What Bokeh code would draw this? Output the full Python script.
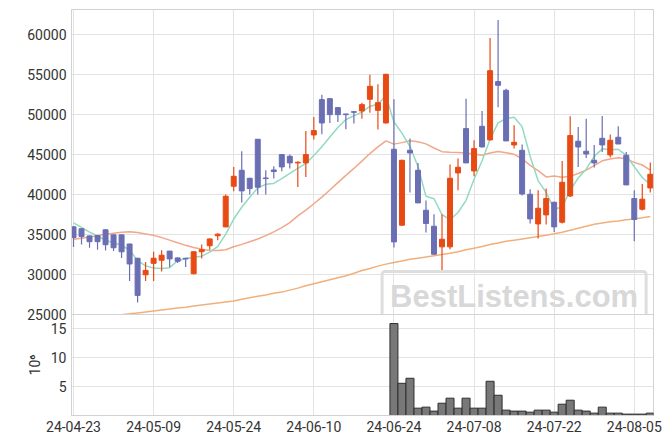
import pandas as pd
from bokeh.plotting import figure
from bokeh.models import ColumnDataSource, Range1d, FixedTicker, Label
from bokeh.layouts import column
from bokeh.embed import file_html
from bokeh.resources import INLINE

# ---- data ----
holidays = ["2024-05-01", "2024-05-06", "2024-05-15", "2024-06-06"]
dates = [d for d in pd.bdate_range("2024-04-23", "2024-08-07")
         if d.strftime("%Y-%m-%d") not in holidays]

opens = [35970, 35720, 34830, 34870, 35590, 34960, 34960, 33820, 32040, 29970,
         31400, 31790, 32930, 32080, 32040, 30100, 32850, 33600, 34850, 35960,
         41040, 43040, 42040, 46920, 42080, 43080, 45000, 44790, 43960, 43960,
         47460, 51880, 52000, 50880, 50080, 50370, 50460, 51920, 50540, 48960,
         45670, 36170, 45540, 43040, 38040, 36040, 33460, 33460, 42710, 48250,
         42960, 48540, 46840, 54130, 53040, 46210, 45540, 40040, 36330, 37460,
         39040, 36540, 39830, 46670, 45420, 44290, 47040, 44960, 47170, 44920,
         39500, 38170, 40830]
highs = [36000, 35800, 34900, 34950, 35680, 35000, 35000, 33850, 32080, 31570,
         32840, 33050, 32950, 32170, 32080, 32900, 33770, 34500, 35150, 40000,
         43460, 45420, 42100, 46950, 43040, 43540, 45050, 45000, 44170, 47960,
         49710, 52500, 52050, 50960, 50100, 50460, 51500, 55000, 53800, 55100,
         51920, 44350, 47000, 43960, 39250, 37540, 37540, 43750, 44500, 52000,
         46790, 50460, 59590, 61840, 53250, 48670, 46250, 40670, 40540, 40750,
         39100, 44210, 49790, 48460, 49500, 46210, 49830, 47500, 48540, 45330,
         40540, 41330, 44000]
lows = [33440, 33770, 33350, 33100, 33010, 32930, 32080, 29200, 26500, 29200,
        29200, 30390, 30900, 31450, 30940, 30050, 32000, 33100, 34300, 35900,
        40420, 39000, 40000, 40000, 40000, 42000, 42920, 43250, 40960, 42210,
        46880, 47540, 48960, 49080, 48170, 48880, 49500, 50250, 48130, 48900,
        33380, 36080, 40250, 38960, 35250, 32500, 30420, 33170, 40540, 43960,
        42290, 45880, 46800, 50910, 46700, 45750, 39880, 36380, 34500, 36250,
        35330, 36380, 39700, 43460, 44580, 43380, 45330, 44630, 46330, 41200,
        34170, 38000, 40250]
closes = [34620, 34750, 34110, 34110, 33730, 33350, 32840, 31320, 27390, 30520,
          32040, 32420, 31950, 31660, 31950, 32850, 33100, 34450, 35050, 39790,
          42290, 40460, 40750, 40920, 42000, 42880, 43460, 43960, 44040, 45000,
          48000, 48960, 50000, 50000, 50000, 50290, 51250, 53540, 51500, 55040,
          34080, 44290, 45210, 38960, 36380, 32540, 34420, 42040, 43420, 43960,
          45750, 45960, 55500, 53670, 46710, 46540, 40080, 36960, 38290, 39500,
          35960, 41540, 47380, 45960, 45080, 43960, 46210, 46790, 46330, 41210,
          36880, 39420, 42540]
# volume in millions (no volume shown before 24-06-24)
volume_m = [None] * 40 + [
    15.93, 5.58, 6.45, 1.27, 1.45, 0.76, 2.13, 3.0, 1.27, 3.0,
    1.27, 1.27, 5.93, 3.51, 0.93, 0.76, 0.76, 0.58, 0.93, 0.93,
    0.58, 1.96, 2.65, 0.93, 0.76, 0.41, 1.45, 0.41, 0.41, 0.24,
    0.24, 0.24, 0.41]
ma5 = [36450, 35900, 35300, 34850, 34260, 34010, 33630, 33070, 31730, 31080,
       30820, 30740, 30860, 31720, 32000, 32170, 32300, 32800, 33480, 35050,
       36940, 38410, 39670, 40840, 41280, 41400, 42000, 42640, 43270, 43870,
       44890, 45990, 47200, 48390, 49390, 49850, 50310, 51020, 51320, 52320,
       49080, 47690, 46020, 43520, 39780, 39480, 37500, 36870, 37760, 39280,
       41920, 44230, 46920, 48970, 49520, 49680, 48500, 44790, 41720, 40270,
       38160, 38450, 40530, 42070, 43180, 44780, 45720, 45600, 45670, 44900,
       43480, 42130, 41280]
ma20 = [34400, 34550, 34700, 34870, 35040, 35170, 35300, 35350, 35250, 35080,
        34900, 34620, 34300, 33970, 33650, 33370, 33150, 33020, 33000, 33100,
        33480, 33770, 34100, 34440, 34860, 35330, 35860, 36500, 37330, 38050,
        38850, 39680, 40580, 41500, 42400, 43270, 44180, 45130, 45960, 46720,
        46310, 46500, 46720, 46620, 46340, 45830, 45370, 45280, 45250, 45190,
        45080, 44930, 45210, 45390, 45230, 45040, 44480, 43650, 42990, 42210,
        42310, 42170, 42280, 42630, 43060, 43630, 44220, 44460, 44610, 44470,
        44030, 43700, 43050]
ma60 = [24250, 24380, 24500, 24620, 24740, 24860, 24970, 25080, 25200, 25320,
        25440, 25560, 25680, 25800, 25920, 26050, 26180, 26310, 26440, 26570,
        26700, 26900, 27100, 27290, 27450, 27650, 27800, 28050, 28300, 28600,
        28850, 29100, 29350, 29600, 29850, 30150, 30500, 30750, 31050, 31300,
        31500, 31700, 31900, 32050, 32200, 32350, 32500, 32650, 32850, 33100,
        33300, 33500, 33750, 33950, 34150, 34300, 34450, 34600, 34750, 34900,
        35090, 35300, 35550, 35800, 36050, 36300, 36450, 36600, 36700, 36850,
        36960, 37100, 37250]
price_ticks = [25000, 30000, 35000, 40000, 45000, 50000, 55000, 60000]
volume_ticks = [5, 10, 15]

# ---- styling ----
RED = "#e84a14"
BLUE = "#6a6eb3"
GRID = "#e3e3e3"
BORDER = "#d2d2d2"
TXT = "#333333"
FONT = "Roboto"

n = len(closes)
xs = list(range(n))
colors = [RED if c >= o else BLUE for o, c in zip(opens, closes)]
src = ColumnDataSource(dict(
    x=xs, h=highs, l=lows,
    top=[max(o, c) for o, c in zip(opens, closes)],
    bot=[min(o, c) for o, c in zip(opens, closes)],
    color=colors))
vsrc = ColumnDataSource(dict(x=xs, v=[float("nan") if v is None else v for v in volume_m]))

tick_pos = list(range(0, n, 10))
tick_lbl = {i: dates[i].strftime("%y-%m-%d") for i in tick_pos}

xr = Range1d(-0.25, n - 0.6)


def style(fig):
    fig.outline_line_color = BORDER
    fig.xgrid.ticker = FixedTicker(ticks=tick_pos)
    fig.xgrid.grid_line_color = GRID
    fig.ygrid.grid_line_color = GRID
    for ax in fig.axis:
        ax.axis_line_color = BORDER
        ax.major_tick_line_color = None
        ax.minor_tick_line_color = None
        ax.major_tick_out = 0
        ax.major_label_text_font = FONT
        ax.major_label_text_font_size = "14px"
        ax.major_label_text_color = TXT


OVERLAP = 11
p = figure(width=662, height=314 + OVERLAP, x_range=xr, y_range=Range1d(25000, 63150),
           output_backend="svg", toolbar_location=None,
           min_border_left=71, min_border_right=9, min_border_top=9,
           min_border_bottom=OVERLAP)
style(p)
p.xaxis.visible = False
p.yaxis.ticker = FixedTicker(ticks=price_ticks)
p.ygrid.ticker = FixedTicker(ticks=price_ticks)

p.line(xs, ma60, line_color="#f0b07c", line_width=1.5)
p.line(xs, ma20, line_color="#f0a88a", line_width=1.5)
p.line(xs, ma5, line_color="#92dac2", line_width=1.5)
p.segment("x", "h", "x", "l", line_color="color", line_width=1.2, source=src)
p.vbar(x="x", width=0.62, top="top", bottom="bot", fill_color="color",
       line_color="color", line_width=1, source=src)

wm = Label(x=55, y=27200, text="BestListens.com", text_align="center",
           text_baseline="alphabetic", text_font="Liberation Sans",
           text_font_style="bold", text_font_size="31px", text_color="#d8d8d8",
           border_line_color="#dedede", border_line_width=3,
           padding=8, border_radius=3)
p.add_layout(wm)

v = figure(width=662, height=128, x_range=xr, y_range=Range1d(0, 17.5),
           output_backend="svg", toolbar_location=None,
           min_border_left=71, min_border_right=9, min_border_top=0,
           min_border_bottom=27, margin=(-OVERLAP, 0, 0, 0))
v.border_fill_color = None
style(v)
v.vbar(x="x", width=1.0, top="v", bottom=0, fill_color="#787878",
       line_color="#2e2e2e", line_width=1, source=vsrc)
v.xaxis.ticker = FixedTicker(ticks=tick_pos)
v.xaxis.major_label_overrides = tick_lbl
v.xaxis.major_label_standoff = 5
v.yaxis.ticker = FixedTicker(ticks=volume_ticks)
v.ygrid.ticker = FixedTicker(ticks=volume_ticks)
v.yaxis.axis_label = "10⁶"
v.yaxis.axis_label_text_font = FONT
v.yaxis.axis_label_text_font_style = "normal"
v.yaxis.axis_label_text_font_size = "14px"
v.yaxis.axis_label_text_color = TXT

layout = column(p, v, spacing=0)
open("out.html", "w").write(file_html(layout, INLINE))
